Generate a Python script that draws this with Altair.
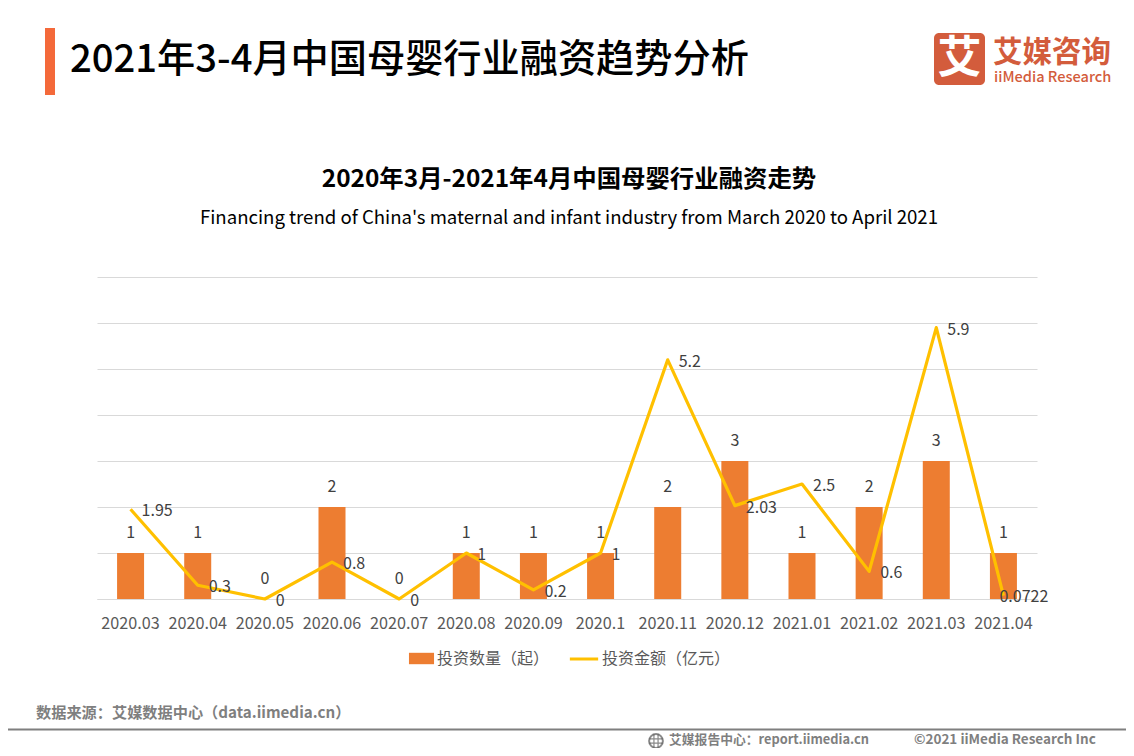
import altair as alt
import pandas as pd

months = ["2020.03","2020.04","2020.05","2020.06","2020.07","2020.08","2020.09","2020.1","2020.11","2020.12","2021.01","2021.02","2021.03","2021.04"]
counts = [1,1,0,2,0,1,1,1,2,3,1,2,3,1]
amounts = [1.95,0.3,0,0.8,0,1,0.2,1,5.2,2.03,2.5,0.6,5.9,0.0722]
amount_labels = ["1.95","0.3","0","0.8","0","1","0.2","1","5.2","2.03","2.5","0.6","5.9","0.0722"]
BAR_NAME = "投资数量（起）"
LINE_NAME = "投资金额（亿元）"

df = pd.DataFrame({"month":months,"count":counts,"amount":amounts,"alabel":amount_labels,
                   "bar_series":[BAR_NAME]*14,"line_series":[LINE_NAME]*14})

CJK = "Noto Sans CJK SC"
OX, OY = 97, 277  # plot origin on the page
W, H = 940, 322
one = pd.DataFrame({"a":[0]})

x = alt.X("month:N", sort=months, title=None,
          scale=alt.Scale(paddingInner=0.6, paddingOuter=0.3, round=False),
          axis=alt.Axis(labelAngle=0, labelFont=CJK, labelFontSize=16.2, labelColor="#595959",
                        labelPadding=16, ticks=False, domainColor="#D9D9D9", domainWidth=1, grid=False, labelOverlap=False))
y_axis = alt.Axis(values=list(range(8)), labels=False, ticks=False, domain=False,
                  grid=True, gridColor="#D9D9D9", gridWidth=1)
y = alt.Y("count:Q", title=None, scale=alt.Scale(domain=[0,7], nice=False), axis=y_axis)
ya = alt.Y("amount:Q", title=None, scale=alt.Scale(domain=[0,7], nice=False), axis=y_axis)

bars = alt.Chart(df).mark_bar(size=27).encode(
    x=x, y=y,
    color=alt.Color("bar_series:N", scale=alt.Scale(domain=[BAR_NAME], range=["#ED7D31"]),
        legend=alt.Legend(title=None, orient="none", legendX=411-OX-1, legendY=647-OY,
            symbolType="M-1.1,-0.5H1.1V0.5H-1.1Z", symbolSize=520, symbolStrokeWidth=0,
            labelFont=CJK, labelFontSize=16, labelColor="#595959", labelOffset=4, labelLimit=200)))
line = alt.Chart(df).mark_line(strokeWidth=3.2, strokeJoin="round").encode(
    x=x, y=ya,
    color=alt.Color("line_series:N", scale=alt.Scale(domain=[LINE_NAME], range=["#FFC000"]),
        legend=alt.Legend(title=None, orient="none", legendX=568-OX, legendY=643-OY,
            symbolType="stroke", symbolSize=800, symbolStrokeWidth=3,
            labelFont=CJK, labelFontSize=16, labelColor="#595959", labelOffset=2, labelLimit=200)))
count_text = alt.Chart(df).mark_text(font=CJK, fontSize=16, color="#404040", dy=-20).encode(
    x=x, y=y, text="count:Q")
amt_text = alt.Chart(df).transform_filter("datum.alabel != '0.0722'").mark_text(
    font=CJK, fontSize=16, color="#404040", align="left", dx=11, dy=2).encode(
    x=x, y=ya, text="alabel:N")
amt_last = alt.Chart(df).transform_filter("datum.alabel == '0.0722'").mark_text(
    font=CJK, fontSize=16, color="#404040", align="left", dx=-4, dy=1).encode(
    x=x, y=ya, text="alabel:N")

def txt(s, px, py, size, color="#000000", weight="normal", align="left", font=CJK):
    return alt.Chart(pd.DataFrame({"t":[s]})).mark_text(font=font, fontSize=size, color=color,
        fontWeight=weight, align=align, baseline="middle").encode(
        x=alt.value(px-OX), y=alt.value(py-OY), text="t:N")

def box(x0, y0, x1, y1, color, radius=0):
    return alt.Chart(one).mark_rect(color=color, cornerRadius=radius).encode(
        x=alt.value(x0-OX), x2=alt.value(x1-OX), y=alt.value(y0-OY), y2=alt.value(y1-OY))

deco = [
    box(45,28,55,95,"#F4693A"),
    txt("2021年3-4月中国母婴行业融资趋势分析",70,61,38.2,"#000000",500),
    box(934,33,985,85,"#D35C3C",5),
    txt("艾",959.5,60,44,"#FFFFFF","bold",align="center"),
    txt("艾媒咨询",993,53,29.5,"#D35C3C","bold"),
    txt("iiMedia Research",994,78,14.6,"#D35C3C",500),
    txt("2020年3月-2021年4月中国母婴行业融资走势",569,180,24.4,"#000000","bold",align="center"),
    txt("Financing trend of China's maternal and infant industry from March 2020 to April 2021",569,218,18.6,"#000000",align="center"),
    txt("数据来源：艾媒数据中心（data.iimedia.cn）",36,713,15.2,"#7F7F7F","bold"),
    alt.Chart(one).mark_rule(color="#7F7F7F", strokeWidth=2).encode(
        x=alt.value(0-OX), x2=alt.value(1134-OX), y=alt.value(729.5-OY)),
    alt.Chart(one).mark_point(shape="circle", size=190, color="#595959", strokeWidth=2, filled=False).encode(
        x=alt.value(656-OX), y=alt.value(741-OY)),
    alt.Chart(one).mark_point(shape="M-0.3,-1V1M0.3,-1V1M-1,-0.3H1M-1,0.3H1", size=190, color="#595959", strokeWidth=1.2, filled=False).encode(
        x=alt.value(656-OX), y=alt.value(741-OY)),
    txt("艾媒报告中心：report.iimedia.cn",669,740,12.8,"#7F7F7F","bold"),
    txt("©2021  iiMedia Research  Inc",914,740,13.5,"#7F7F7F","bold"),
]

chart = alt.layer(bars, line, count_text, amt_text, amt_last, *deco).resolve_scale(color="independent").properties(
    width=W, height=H, background="#FFFFFF",
    autosize=alt.AutoSizeParams(type="none"),
    padding={"left":OX-8,"top":OY-8,"right":1118-(OX-8)-W,"bottom":740-(OY-8)-H},
).configure_view(stroke=None)

chart.save("out.html", embed_options={"renderer":"svg","actions":False})
